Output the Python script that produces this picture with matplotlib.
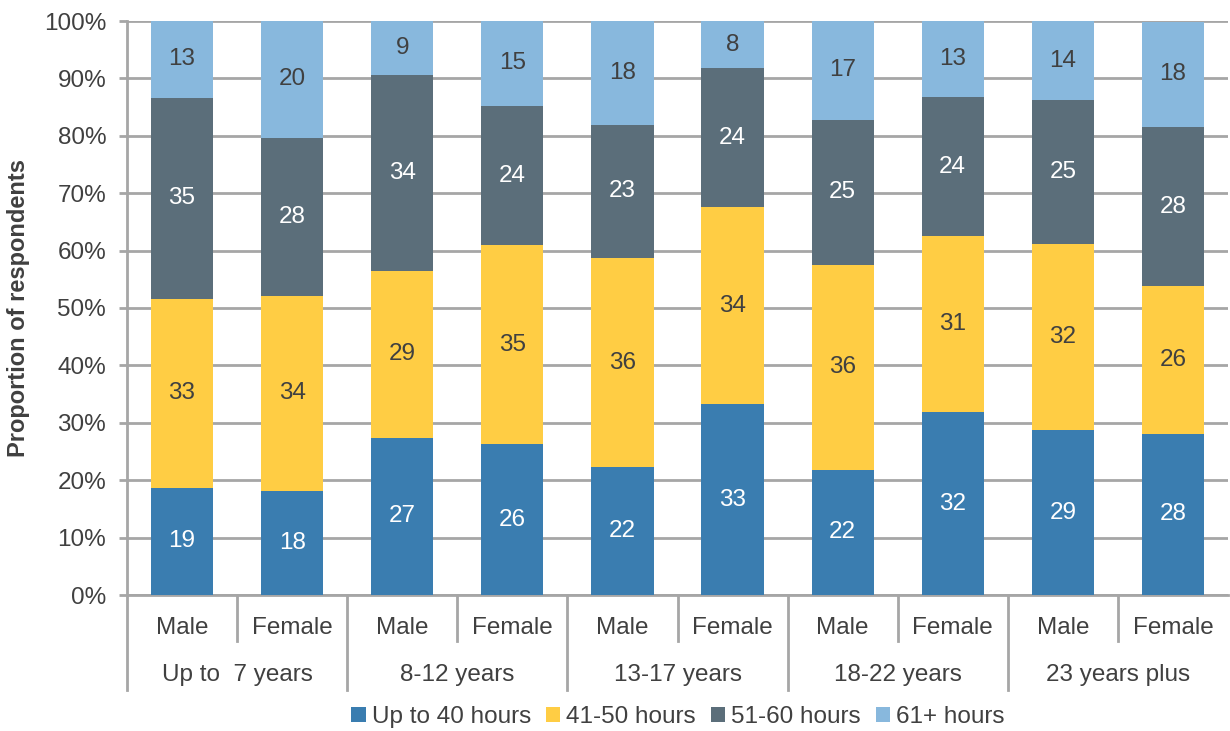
""" Working hours by years in role and gender """
import matplotlib
matplotlib.use("Agg")
import matplotlib.pyplot as plt
from matplotlib.patches import Patch
import numpy as np

plt.rcParams['font.family'] = ['Liberation Sans', 'DejaVu Sans']

#------------ Data ------------#
groups = ["Up to  7 years", "8-12 years", "13-17 years", "18-22 years", "23 years plus"]
genders = ["Male", "Female"]
series = ["Up to 40 hours", "41-50 hours", "51-60 hours", "61+ hours"]

up_to_40 = [18.7, 18.2, 27.4, 26.3, 22.3, 33.2, 21.8, 31.8, 28.7, 28.1]
h41_50   = [32.9, 33.9, 29.0, 34.6, 36.4, 34.4, 35.7, 30.7, 32.4, 25.7]
h51_60   = [35.0, 27.6, 34.2, 24.3, 23.2, 24.2, 25.3, 24.3, 25.1, 27.7]
h61_plus = [13.4, 20.3,  9.4, 14.8, 18.1,  8.2, 17.2, 13.2, 13.8, 18.4]

colors = ["#3A7DB0", "#FFCD44", "#5B6E7A", "#88B8DD"]
text_colors = ["white", "#404040", "white", "#404040"]
GRID = "#A6A6A6"
TXT = "#404040"
FS = 17.5

#------------ Plot ------------#
fig = plt.figure(figsize=(12.3, 7.31), dpi=100)
ax = fig.add_axes([127/1230, 1 - 595/731, 1101/1230, 574/731])

x = np.arange(len(up_to_40))
bottom = np.zeros(len(x))
for vals, col, tcol, name in zip([up_to_40, h41_50, h51_60, h61_plus], colors, text_colors, series):
    vals = np.array(vals)
    ax.bar(x, vals, 0.565, bottom=bottom, color=col, label=name, zorder=3)
    for xi, b, v in zip(x, bottom, vals):
        ax.text(xi, b + v/2, f"{v:.0f}", ha="center", va="center",
                color=tcol, fontsize=FS, zorder=4)
    bottom += vals

ax.set_xlim(-0.5, len(x) - 0.5)
ax.set_ylim(0, 100)
ax.set_yticks(np.arange(0, 101, 10))
ax.set_yticklabels([f"{t}%" for t in range(0, 101, 10)], fontsize=FS, color=TXT)
ax.set_xticks([])
ax.yaxis.grid(True, color=GRID, linewidth=2, zorder=0)
ax.tick_params(axis="y", length=6, width=2, color=GRID, pad=9)
for s in ["top", "right"]:
    ax.spines[s].set_visible(False)
ax.spines["left"].set_color(GRID)
ax.spines["left"].set_linewidth(2)
ax.spines["bottom"].set_color(GRID)
ax.spines["bottom"].set_linewidth(2)

ax.set_ylabel("Proportion of respondents", fontsize=17, fontweight="bold", color=TXT)
ax.yaxis.set_label_coords(-97/1101, 0.5)

#------------ Two level x axis ------------#
tr = ax.get_xaxis_transform()
inner_y = -46/574
outer_y = -95/574
ax.plot([-0.5, -0.5], [0, outer_y], color=GRID, lw=2, transform=tr, clip_on=False)
for i in range(len(x) - 1):
    depth = outer_y if i % 2 == 1 else inner_y
    ax.plot([i + 0.5, i + 0.5], [0, depth], color=GRID, lw=2, transform=tr, clip_on=False)
for i, xi in enumerate(x):
    ax.text(xi, -33/574, genders[i % 2], ha="center", va="center", fontsize=FS,
            color=TXT, transform=tr)
for g, name in enumerate(groups):
    ax.text(2*g + 0.5, -80/574, name, ha="center", va="center", fontsize=FS,
            color=TXT, transform=tr)

handles = [Patch(facecolor=c, label=s) for c, s in zip(colors, series)]
leg = fig.legend(handles=handles, loc="center", bbox_to_anchor=(678/1230, 1 - 717/731),
                 ncol=4, frameon=False, fontsize=FS, handlelength=0.6, handleheight=0.6,
                 handletextpad=0.25, columnspacing=0.6, borderpad=0)
for t in leg.get_texts():
    t.set_color(TXT)

fig.savefig("out.png", dpi=100)
